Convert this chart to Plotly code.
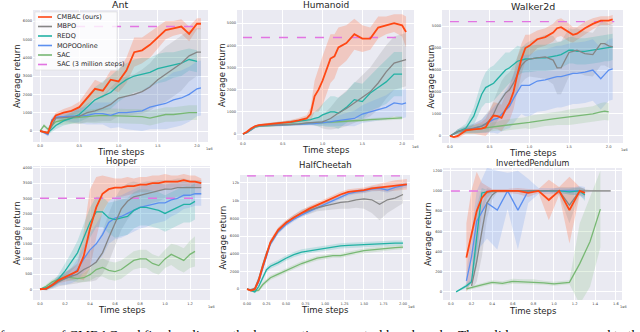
import plotly.graph_objects as go

W, H = 640, 332

NAMES = ['CMBAC (ours)', 'MBPO', 'REDQ', 'MOPOOnline', 'SAC']
COLORS = ['#ff4713', '#858585', '#22b1a4', '#5b8ff0', '#78b874']
FILLS = ['rgba(255,110,70,0.28)', 'rgba(140,140,140,0.22)', 'rgba(34,177,164,0.2)',
         'rgba(91,143,240,0.2)', 'rgba(120,184,116,0.2)']
SAC3M_NAME = 'SAC (3 million steps)'
SAC3M_COLOR = '#e274e2'

# ---- Ant ----
ANT_X = [0.0, 0.05, 0.1, 0.15, 0.2, 0.3, 0.4, 0.5, 0.6, 0.7, 0.8, 0.9, 1.0, 1.1, 1.2, 1.3, 1.4, 1.5, 1.6, 1.7, 1.8, 1.9, 2.0, 2.05]
ANT_CMBAC = [0, -50, -100, 500, 850, 1000, 1100, 1300, 1800, 2300, 2200, 2800, 2700, 3300, 4300, 4400, 4700, 5100, 5500, 5600, 5700, 5300, 5850, 5850]
ANT_CMBAC_SD = [0, 50, 100, 150, 150, 200, 250, 300, 400, 500, 400, 500, 600, 700, 800, 700, 700, 600, 500, 400, 400, 400, 300, 300]
ANT_MBPO = [0, -50, -150, 300, 700, 730, 750, 800, 1000, 1100, 1250, 1450, 1800, 1900, 2000, 2150, 2400, 2800, 3100, 3400, 3700, 4100, 4300, 4300]
ANT_MBPO_SD = [0, 50, 100, 150, 150, 200, 300, 400, 500, 600, 700, 900, 1000, 1100, 1100, 1200, 1300, 1400, 1500, 1500, 1500, 1400, 1300, 1300]
ANT_REDQ = [0, -50, -100, 100, 300, 550, 700, 900, 1300, 1700, 1900, 2100, 2500, 2800, 3000, 3100, 3200, 3400, 3500, 3600, 3700, 3900, 3800, None]
ANT_REDQ_SD = [0, 50, 100, 150, 200, 250, 300, 400, 600, 700, 800, 900, 900, 900, 900, 900, 800, 800, 800, 700, 700, 600, 600, None]
ANT_MOPO = [0, -100, -200, 600, 750, 780, 800, 820, 850, 950, 950, 850, 1000, 1000, 1050, 1100, 1300, 1400, 1500, 1700, 1800, 2000, 2300, 2350]
ANT_MOPO_SD = [0, 50, 100, 150, 150, 200, 300, 400, 500, 600, 600, 700, 800, 900, 1000, 1100, 1200, 1300, 1400, 1500, 1500, 1500, 1500, 1500]
ANT_SAC = [0, 300, 100, 300, 500, 600, 700, 750, 800, 820, 850, 830, 800, 800, 800, 780, 700, 800, 900, 900, 950, 1000, 1000, None]
ANT_SAC_SD = [0, 100, 100, 150, 200, 250, 300, 350, 350, 400, 400, 400, 400, 400, 400, 400, 400, 400, 400, 400, 400, 400, 400, None]
ANT_SAC3M = 5700
ANT_SAC3M_X = [0.0, 2.05]
ANT_XTICKS = [0.0, 0.5, 1.0, 1.5, 2.0]
ANT_YTICKS = [0, 1000, 2000, 3000, 4000, 5000, 6000]

# ---- Humanoid ----
HUM_X = [0.0, 0.05, 0.1, 0.15, 0.2, 0.3, 0.4, 0.5, 0.6, 0.7, 0.8, 0.85, 0.9, 0.95, 1.0, 1.05, 1.1, 1.15, 1.2, 1.3, 1.4, 1.5, 1.6, 1.7, 1.8, 1.9, 2.0, 2.05]
HUM_CMBAC = [0, 100, 250, 350, 400, 430, 460, 500, 550, 620, 700, 900, 1700, 2000, 2400, 2900, 3400, 3500, 3900, 4100, 4500, 4300, 4300, 4800, 4900, 5000, 4900, 4600]
HUM_CMBAC_SD = [0, 30, 40, 50, 50, 50, 60, 70, 80, 100, 150, 300, 700, 1000, 1100, 1100, 1100, 1000, 900, 800, 700, 600, 500, 500, 400, 400, 500, 700]
HUM_MBPO = [0, 80, 200, 330, 380, 390, 400, 410, 420, 450, 500, 520, 530, 540, 550, 620, 700, 820, 950, 1150, 1400, 1650, 1900, 2300, 2800, 3200, 3300, 3350]
HUM_MBPO_SD = [0, 30, 40, 50, 50, 50, 50, 50, 60, 70, 80, 100, 150, 200, 300, 400, 500, 600, 700, 800, 900, 1000, 1100, 1200, 1200, 1200, 1200, 1200]
HUM_REDQ = [0, 80, 200, 330, 380, 430, 470, 500, 530, 570, 620, 650, 700, 750, 860, 930, 1000, 1000, 940, 1200, 1550, 1460, 1850, 2100, 2350, 2700, 2700, None]
HUM_REDQ_SD = [0, 30, 40, 50, 50, 50, 60, 70, 80, 100, 150, 200, 300, 400, 500, 600, 700, 700, 700, 700, 800, 800, 800, 900, 1000, 1000, 1000, None]
HUM_MOPO = [0, 60, 180, 320, 370, 380, 390, 400, 420, 430, 450, 460, 470, 490, 500, 520, 550, 580, 600, 650, 700, 900, 1000, 1100, 1200, 1400, 1350, 1400]
HUM_MOPO_SD = [0, 30, 40, 50, 50, 50, 50, 50, 60, 60, 70, 80, 90, 100, 120, 150, 180, 200, 250, 300, 350, 400, 450, 500, 550, 600, 650, 650]
HUM_SAC = [0, 60, 180, 300, 350, 370, 390, 400, 420, 440, 450, 460, 470, 480, 500, 510, 520, 530, 550, 570, 600, 620, 650, 670, 700, 710, 730, None]
HUM_SAC_SD = [0, 30, 40, 50, 50, 50, 50, 50, 50, 50, 50, 50, 60, 60, 60, 60, 60, 60, 60, 70, 70, 70, 70, 80, 80, 80, 80, None]
HUM_SAC3M = 4350
HUM_SAC3M_X = [0.0, 2.0]
HUM_XTICKS = [0.0, 0.5, 1.0, 1.5, 2.0]
HUM_YTICKS = [0, 1000, 2000, 3000, 4000, 5000]

# ---- Walker2d ----
WAL_X = [0.0, 0.05, 0.1, 0.2, 0.3, 0.4, 0.45, 0.5, 0.55, 0.6, 0.65, 0.7, 0.75, 0.8, 0.85, 0.9, 0.95, 1.0, 1.1, 1.2, 1.3, 1.35, 1.4, 1.5, 1.55, 1.6, 1.7, 1.8, 1.9, 1.95, 2.0, 2.05]
WAL_CMBAC = [0, -50, 0, 250, 300, 330, 400, 700, 930, 900, 820, 1200, 1500, 2000, 2800, 3500, 4000, 4100, 4400, 4500, 4700, 4900, 4950, 4700, 4600, 4650, 4900, 5100, 5250, 5250, 5250, 5300]
WAL_CMBAC_SD = [0, 50, 100, 150, 200, 300, 400, 500, 600, 600, 600, 700, 800, 800, 800, 700, 600, 500, 400, 400, 400, 400, 400, 400, 350, 300, 300, 250, 200, 200, 200, 200]
WAL_MBPO = [0, 100, 200, 300, 350, 450, 550, 700, 1000, 1400, 1700, 1950, 2100, 2400, 2800, 3200, 3400, 3500, 3550, 3600, 3450, 3100, 3100, 3800, 3850, 3900, 3750, 3700, 4200, 4200, 4100, 4050]
WAL_MBPO_SD = [0, 50, 100, 150, 200, 300, 400, 500, 600, 700, 800, 800, 800, 800, 800, 800, 800, 800, 900, 1000, 1100, 1200, 1200, 1100, 1000, 1000, 1000, 1000, 1000, 1000, 1000, 1000]
WAL_REDQ = [0, 100, 200, 350, 900, 1900, 2200, 2300, 2400, 2600, 2800, 3000, 3100, 3250, 3400, 3450, 3500, 3500, 3550, 3550, 3600, 3650, 3700, 3900, 3900, 3850, 3850, 3900, 3950, 4000, 4000, 4050]
WAL_REDQ_SD = [0, 50, 100, 200, 400, 600, 700, 800, 800, 800, 800, 800, 700, 700, 700, 600, 600, 600, 600, 600, 600, 600, 600, 600, 600, 600, 600, 600, 600, 600, 600, 600]
WAL_MOPO = [0, 100, 200, 280, 350, 450, 550, 650, 750, 800, 1000, 1200, 1350, 1700, 2000, 2300, 2300, 2300, 2500, 2550, 2650, 2700, 2700, 2800, 2850, 2850, 2900, 3000, 2600, 2800, 3000, 3050]
WAL_MOPO_SD = [0, 50, 100, 150, 200, 300, 400, 500, 600, 700, 800, 900, 1000, 1100, 1200, 1300, 1400, 1400, 1400, 1400, 1400, 1400, 1400, 1400, 1400, 1400, 1400, 1400, 1400, 1400, 1400, 1400]
WAL_SAC = [0, 100, 200, 250, 300, 350, 380, 400, 420, 450, 470, 500, 520, 550, 570, 580, 600, 620, 680, 750, 780, 800, 820, 850, 870, 900, 950, 1000, 1100, 1130, 1100, None]
WAL_SAC_SD = [0, 50, 100, 150, 200, 200, 200, 200, 200, 200, 250, 250, 250, 250, 250, 250, 250, 300, 300, 300, 300, 300, 300, 350, 350, 350, 350, 350, 400, 400, 400, None]
WAL_SAC3M = 5200
WAL_SAC3M_X = [0.0, 2.07]
WAL_XTICKS = [0.0, 0.5, 1.0, 1.5, 2.0]
WAL_YTICKS = [0, 1000, 2000, 3000, 4000, 5000]

# ---- Hopper ----
HOP_X = [0.0, 0.05, 0.1, 0.15, 0.2, 0.25, 0.3, 0.35, 0.4, 0.45, 0.5, 0.55, 0.6, 0.65, 0.7, 0.75, 0.8, 0.85, 0.9, 0.95, 1.0, 1.05, 1.1, 1.15, 1.2, 1.24, 1.29]
HOP_CMBAC = [0, 20, 150, 300, 400, 500, 600, 1100, 2000, 2700, 3150, 3300, 3350, 3350, 3400, 3400, 3450, 3450, 3500, 3500, 3550, 3550, 3550, 3600, 3550, 3550, 3500]
HOP_CMBAC_SD = [0, 20, 60, 100, 150, 200, 250, 800, 1300, 1000, 600, 400, 300, 300, 300, 250, 250, 250, 250, 250, 250, 200, 200, 200, 200, 200, 150]
HOP_MBPO = [0, 0, 120, 250, 350, 420, 500, 650, 750, 900, 1200, 1700, 2200, 2650, 2900, 3050, 3100, 3150, 3200, 3250, 3300, 3300, 3350, 3350, 3350, 3350, 3350]
HOP_MBPO_SD = [0, 50, 100, 150, 200, 250, 300, 400, 500, 600, 700, 800, 800, 700, 600, 500, 400, 400, 350, 350, 300, 300, 300, 300, 250, 250, 250]
HOP_REDQ = [0, 50, 150, 350, 600, 900, 1200, 1700, 2200, 2550, 2550, 2350, 2300, 2350, 2400, 2600, 2700, 2700, 2650, 2600, 2500, 2600, 2700, 2800, 2800, 2900, None]
HOP_REDQ_SD = [0, 50, 100, 150, 250, 300, 400, 450, 500, 500, 500, 500, 600, 600, 600, 600, 600, 600, 600, 600, 600, 600, 600, 600, 600, 600, None]
HOP_MOPO = [0, 30, 150, 300, 350, 450, 650, 1000, 1300, 1500, 1800, 2200, 2350, 2400, 2500, 2600, 2700, 2750, 2800, 2850, 2850, 2950, 3000, 3100, 3100, 3150, 3150]
HOP_MOPO_SD = [0, 50, 100, 150, 200, 250, 350, 450, 550, 650, 700, 700, 700, 700, 700, 700, 700, 700, 650, 650, 600, 550, 500, 450, 400, 400, 400]
HOP_SAC = [0, 100, 250, 330, 400, 380, 350, 380, 480, 650, 720, 620, 580, 650, 800, 950, 1000, 1000, 850, 780, 1000, 1150, 1050, 950, 1150, 1250, None]
HOP_SAC_SD = [0, 50, 80, 100, 100, 100, 120, 150, 200, 250, 300, 300, 300, 300, 300, 300, 300, 300, 300, 300, 300, 350, 400, 400, 450, 500, None]
HOP_SAC3M = 3000
HOP_SAC3M_X = [0.0, 1.24]
HOP_XTICKS = [0.0, 0.2, 0.4, 0.6, 0.8, 1.0, 1.2]
HOP_YTICKS = [0, 500, 1000, 1500, 2000, 2500, 3000, 3500, 4000]

# ---- HalfCheetah ----
HC_X = [0.0, 0.05, 0.1, 0.15, 0.2, 0.25, 0.3, 0.4, 0.5, 0.6, 0.7, 0.8, 0.9, 1.0, 1.1, 1.2, 1.3, 1.4, 1.5, 1.6, 1.7, 1.8, 1.9, 2.0, 2.05]
HC_CMBAC = [0, -150, 0, 1000, 2500, 4000, 5300, 6700, 7500, 8100, 8600, 9100, 9500, 9900, 10300, 10700, 11000, 11100, 11200, 11400, 11500, 11550, 11700, 11800, 11850]
HC_CMBAC_SD = [0, 100, 150, 200, 300, 300, 300, 300, 300, 300, 300, 300, 300, 300, 300, 300, 300, 300, 300, 300, 400, 500, 600, 600, 600]
HC_MBPO = [0, -50, 100, 1200, 2700, 4100, 5200, 6600, 7500, 8100, 8600, 8900, 9200, 9400, 9600, 9800, 9900, 10100, 10200, 10100, 9600, 10100, 10300, 10700, None]
HC_MBPO_SD = [0, 100, 150, 200, 300, 300, 300, 300, 300, 300, 400, 400, 400, 500, 600, 700, 800, 900, 1100, 1500, 1800, 1500, 1200, 1000, None]
HC_REDQ = [0, -150, -300, 300, 1300, 2200, 2600, 3000, 3500, 3900, 4200, 4350, 4500, 4650, 4750, 4900, 4950, 5000, 5050, 5100, 5100, 5150, 5200, 5200, None]
HC_REDQ_SD = [0, 100, 150, 200, 300, 300, 300, 300, 300, 300, 300, 300, 300, 300, 300, 300, 300, 300, 300, 300, 300, 300, 300, 300, None]
HC_MOPO = [0, -100, 0, 800, 2300, 3800, 5100, 6500, 7300, 7900, 8400, 8800, 9200, 9600, 10000, 10400, 10800, 11000, 11100, 11300, 11400, 11200, 11500, 11700, 11800]
HC_MOPO_SD = [0, 100, 150, 200, 250, 250, 250, 250, 250, 250, 250, 250, 250, 250, 250, 250, 250, 250, 250, 250, 300, 300, 300, 300, 300]
HC_SAC = [0, -100, -200, -100, 500, 900, 1300, 1700, 2100, 2500, 2900, 3200, 3500, 3650, 3800, 3800, 4000, 4200, 4350, 4450, 4550, 4600, 4700, 4750, None]
HC_SAC_SD = [0, 100, 150, 200, 250, 250, 250, 250, 250, 250, 250, 250, 250, 250, 250, 250, 250, 250, 250, 250, 250, 250, 250, 250, None]
HC_SAC3M = 12800
HC_SAC3M_X = [0.0, 2.0]
HC_XTICKS = [0.0, 0.25, 0.5, 0.75, 1.0, 1.25, 1.5, 1.75, 2.0]
HC_YTICKS = [0, 2000, 4000, 6000, 8000, 10000, 12000]

# ---- InvertedPendulum (each run has its own evaluation points) ----
IP_CMBAC_X = [0.15, 0.2, 0.25, 0.3, 0.35, 0.4, 0.45, 0.55, 0.65, 0.75, 0.85, 0.95, 1.05, 1.15, 1.25, 1.3]
IP_CMBAC = [340, 560, 800, 930, 990, 1000, 1000, 1000, 1000, 980, 1000, 910, 1000, 810, 1000, 980]
IP_CMBAC_SD = [340, 450, 390, 150, 60, 20, 20, 20, 30, 40, 20, 200, 40, 330, 40, 40]
IP_MBPO_X = [0.2, 0.25, 0.3, 0.35, 0.4, 0.45, 0.55, 0.65, 0.75, 0.85, 0.95, 1.05, 1.15, 1.25, 1.35, 1.45, 1.55]
IP_MBPO = [60, 300, 600, 880, 960, 1000, 1000, 1000, 1000, 1000, 1000, 1000, 860, 1000, 1000, 1000, 1000]
IP_MBPO_SD = [40, 200, 250, 150, 50, 10, 10, 10, 10, 10, 10, 40, 180, 30, 10, 10, 10]
IP_REDQ_X = [0.05, 0.1, 0.15, 0.2, 0.25, 0.3, 0.35, 0.45, 0.55, 0.65, 0.75, 0.85, 0.95, 1.05, 1.15, 1.25, 1.3]
IP_REDQ = [0, 30, 60, 100, 550, 980, 990, 1000, 1000, 1000, 1000, 1000, 1000, 1000, 990, 1000, 960]
IP_REDQ_SD = [0, 10, 20, 30, 300, 50, 20, 10, 10, 10, 10, 10, 10, 10, 30, 40, 60]
IP_MOPO_X = [0.15, 0.2, 0.25, 0.35, 0.45, 0.55, 0.65, 0.75, 0.85, 0.95, 1.05, 1.15, 1.25, 1.3]
IP_MOPO = [110, 350, 700, 880, 810, 1000, 810, 1000, 1000, 1000, 1000, 1000, 1000, 980]
IP_MOPO_SD = [80, 250, 300, 350, 390, 180, 390, 120, 30, 30, 30, 30, 50, 60]
IP_SAC_X = [0.15, 0.2, 0.3, 0.4, 0.5, 0.6, 0.7, 0.8, 0.9, 1.0, 1.05, 1.15, 1.25, 1.35, 1.45]
IP_SAC = [30, 45, 70, 95, 85, 105, 100, 100, 90, 80, 85, 95, 280, 500, 820]
IP_SAC_SD = [15, 15, 20, 20, 20, 25, 25, 25, 20, 20, 20, 20, 400, 450, 380]
IP_SAC3M = 1000
IP_SAC3M_X = [0.0, 1.25]
IP_XTICKS = [0.0, 0.2, 0.4, 0.6, 0.8, 1.0, 1.2, 1.4, 1.6]
IP_YTICKS = [0, 200, 400, 600, 800, 1000, 1200]

CAPTION = ('formance of CMBAC and five baseline methods on continuous control '
           'benchmarks. The solid curves correspond to the mean')


def fx(px):
    return px / W


def fy(py):
    return 1 - py / H


# panel layout: pixel box (left, top, right, bottom), axis ranges, label spots
PANELS = [
    dict(title='Ant', box=(33, 10, 208, 142), xr=[-0.09, 2.14], yr=[-600, 6600],
         xt=ANT_XTICKS, yt=ANT_YTICKS, fmt='.1f', ty=5, tsize=9.5, xty=151.5, ytx=17,
         series=[(ANT_X, ANT_CMBAC, ANT_CMBAC_SD), (ANT_X, ANT_MBPO, ANT_MBPO_SD),
                 (ANT_X, ANT_REDQ, ANT_REDQ_SD), (ANT_X, ANT_MOPO, ANT_MOPO_SD),
                 (ANT_X, ANT_SAC, ANT_SAC_SD)],
         ref=(ANT_SAC3M_X, ANT_SAC3M)),
    dict(title='Humanoid', box=(237, 10, 414, 140), xr=[-0.075, 2.15], yr=[-270, 5590],
         xt=HUM_XTICKS, yt=HUM_YTICKS, fmt='.1f', ty=5, tsize=9, xty=150, ytx=222,
         series=[(HUM_X, HUM_CMBAC, HUM_CMBAC_SD), (HUM_X, HUM_MBPO, HUM_MBPO_SD),
                 (HUM_X, HUM_REDQ, HUM_REDQ_SD), (HUM_X, HUM_MOPO, HUM_MOPO_SD),
                 (HUM_X, HUM_SAC, HUM_SAC_SD)],
         ref=(HUM_SAC3M_X, HUM_SAC3M)),
    dict(title='Walker2d', box=(442, 10, 623, 143), xr=[-0.1, 2.18], yr=[-320, 5730],
         xt=WAL_XTICKS, yt=WAL_YTICKS, fmt='.1f', ty=6, tsize=9.5, xty=153, ytx=430,
         series=[(WAL_X, WAL_CMBAC, WAL_CMBAC_SD), (WAL_X, WAL_MBPO, WAL_MBPO_SD),
                 (WAL_X, WAL_REDQ, WAL_REDQ_SD), (WAL_X, WAL_MOPO, WAL_MOPO_SD),
                 (WAL_X, WAL_SAC, WAL_SAC_SD)],
         ref=(WAL_SAC3M_X, WAL_SAC3M)),
    dict(title='Hopper', box=(33, 166, 210, 300), xr=[-0.056, 1.36], yr=[-355, 4065],
         xt=HOP_XTICKS, yt=HOP_YTICKS, fmt='.1f', ty=161, tsize=8.5, xty=310, ytx=17,
         series=[(HOP_X, HOP_CMBAC, HOP_CMBAC_SD), (HOP_X, HOP_MBPO, HOP_MBPO_SD),
                 (HOP_X, HOP_REDQ, HOP_REDQ_SD), (HOP_X, HOP_MOPO, HOP_MOPO_SD),
                 (HOP_X, HOP_SAC, HOP_SAC_SD)],
         ref=(HOP_SAC3M_X, HOP_SAC3M)),
    dict(title='HalfCheetah', box=(240, 175, 410, 300), xr=[-0.09, 2.09], yr=[-1220, 12900],
         xt=HC_XTICKS, yt=HC_YTICKS, fmt='.2f', ty=165, tsize=8.5, xty=310, ytx=222,
         series=[(HC_X, HC_CMBAC, HC_CMBAC_SD), (HC_X, HC_MBPO, HC_MBPO_SD),
                 (HC_X, HC_REDQ, HC_REDQ_SD), (HC_X, HC_MOPO, HC_MOPO_SD),
                 (HC_X, HC_SAC, HC_SAC_SD)],
         ref=(HC_SAC3M_X, HC_SAC3M)),
    dict(title='InvertedPendulum', box=(443, 168, 622, 300), xr=[-0.077, 1.66], yr=[-80, 1227],
         xt=IP_XTICKS, yt=IP_YTICKS, fmt='.1f', ty=163, tsize=8, xty=311, ytx=428,
         series=[(IP_CMBAC_X, IP_CMBAC, IP_CMBAC_SD), (IP_MBPO_X, IP_MBPO, IP_MBPO_SD),
                 (IP_REDQ_X, IP_REDQ, IP_REDQ_SD), (IP_MOPO_X, IP_MOPO, IP_MOPO_SD),
                 (IP_SAC_X, IP_SAC, IP_SAC_SD)],
         ref=(IP_SAC3M_X, IP_SAC3M)),
]

TEXT_COLOR = '#262626'
fig = go.Figure()
annotations = []
shapes = []


def note(x, y, text, size, **kw):
    """Text placed in figure (paper) coordinates, centred unless told otherwise."""
    d = dict(x=x, y=y, xref='paper', yref='paper', text=text, showarrow=False,
             xanchor='center', yanchor='middle',
             font=dict(size=size, color=kw.pop('color', TEXT_COLOR),
                       family=kw.pop('family', 'DejaVu Sans')))
    d.update(kw)
    annotations.append(d)


for i, p in enumerate(PANELS):
    n = '' if i == 0 else str(i + 1)
    xa, ya = 'x' + n, 'y' + n
    left, top, right, bottom = p['box']

    # shaded bands first, then lines on top
    for k, (xs, mean, sd) in enumerate(p['series']):
        pts = [(a, m, s) for a, m, s in zip(xs, mean, sd) if m is not None]
        px_ = [q[0] for q in pts]
        lo = [q[1] - q[2] for q in pts]
        hi = [q[1] + q[2] for q in pts]
        fig.add_trace(go.Scatter(
            x=px_ + px_[::-1], y=hi + lo[::-1], fill='toself', fillcolor=FILLS[k],
            mode='lines', line=dict(width=0), hoverinfo='skip', showlegend=False,
            xaxis=xa, yaxis=ya))

    ref_x, ref_v = p['ref']
    fig.add_trace(go.Scatter(
        x=ref_x, y=[ref_v, ref_v], mode='lines', name=SAC3M_NAME,
        line=dict(color=SAC3M_COLOR, width=1.4, dash='dash'), showlegend=False,
        xaxis=xa, yaxis=ya))

    for k in [4, 3, 2, 1, 0]:
        xs, mean, sd = p['series'][k]
        pts = [(a, m) for a, m in zip(xs, mean) if m is not None]
        fig.add_trace(go.Scatter(
            x=[q[0] for q in pts], y=[q[1] for q in pts], mode='lines', name=NAMES[k],
            line=dict(color=COLORS[k], width=1.8 if k == 0 else 1.3),
            showlegend=False, xaxis=xa, yaxis=ya))

    axis_style = dict(showgrid=True, gridcolor='white', gridwidth=0.8, zeroline=False,
                      showline=False, ticks='', tickfont=dict(size=3.6, color='#444'))
    fig.layout['xaxis' + n] = dict(
        domain=[fx(left), fx(right)], range=p['xr'], anchor=ya,
        tickvals=p['xt'], ticktext=[format(v, p['fmt']) for v in p['xt']], **axis_style)
    fig.layout['yaxis' + n] = dict(
        domain=[fy(bottom), fy(top)], range=p['yr'], anchor=xa,
        tickvals=p['yt'], **axis_style)

    note(fx((left + right) / 2), fy(p['ty']), p['title'], p['tsize'])
    note(fx((left + right) / 2), fy(p['xty']), 'Time steps', 8.5)
    note(fx(p['ytx']), fy((top + bottom) / 2), 'Average return', 8.5, textangle=-90)
    note(fx(right + 7), fy(bottom + 7), '1e6', 3.5, color='#444', xanchor='right')

# legend box drawn inside the Ant panel
shapes.append(dict(type='rect', xref='paper', yref='paper', x0=fx(35), x1=fx(117),
                   y0=fy(70), y1=fy(12), fillcolor='rgba(255,255,255,0.8)',
                   line=dict(color='rgba(210,210,210,0.8)', width=0.6)))
legend_names = NAMES + [SAC3M_NAME]
legend_colors = COLORS + [SAC3M_COLOR]
for j, (name, col) in enumerate(zip(legend_names, legend_colors)):
    yy = 17 + j * 9.5
    shapes.append(dict(type='line', xref='paper', yref='paper', x0=fx(38), x1=fx(52),
                       y0=fy(yy), y1=fy(yy),
                       line=dict(color=col, width=1.6, dash='dash' if j == 5 else 'solid')))
    note(fx(55), fy(yy), name, 6.5, xanchor='left')

# caption of the source page, only its upper half falls inside the picture
note(fx(-2), fy(324.5), CAPTION, 13.5, color='black', family='Liberation Serif',
     xanchor='left', yanchor='top')

fig.update_layout(
    width=W, height=H,
    margin=dict(l=0, r=0, t=0, b=0),
    paper_bgcolor='white',
    plot_bgcolor='#eaeaf2',
    font=dict(family='DejaVu Sans'),
    showlegend=False,
    annotations=annotations,
    shapes=shapes,
)

# the page's default body margin would push the figure 8px down and right
fig.write_html("out.html", config={'displayModeBar': False},
               post_script="document.body.style.margin = '0';")
